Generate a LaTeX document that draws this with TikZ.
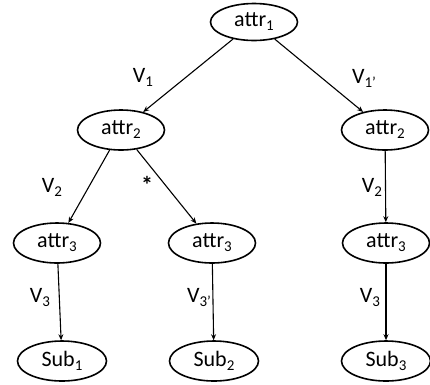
\documentclass[tikz,border=0pt]{standalone}
\usepackage{fontspec}
\setmainfont{Carlito}
\usetikzlibrary{arrows.meta, shapes.geometric}

\newcommand{\subidx}[1]{\raisebox{-4pt}{\fontsize{15}{15}\selectfont #1}}

\begin{document}
\begin{tikzpicture}[x=1pt, y=-1pt, >={Stealth[length=6pt, width=5pt]}]
    \tikzstyle{format} = [draw, line width=1.6pt, ellipse, minimum width=87pt, minimum height=40pt, inner sep=0pt, font=\fontsize{22}{24}\selectfont]
    \tikzstyle{lbl} = [inner sep=0pt, font=\fontsize{22}{24}\selectfont]

    \useasboundingbox (0,0) rectangle (430,384);

    \begin{scope}
        \path[->, line width=1.1pt]
          node[format, minimum height=37pt] (A1) at (254,22) {attr\subidx{1}}
          node[format] (B1) at (121,130) {attr\subidx{2}}
          node[format] (B2) at (385,130) {attr\subidx{2}}
          node[format] (C1) at (57,243) {attr\subidx{3}}
          node[format] (C2) at (212,243) {attr\subidx{3}}
          node[format] (C3) at (386,243) {attr\subidx{3}}
          node[format, minimum width=89pt] (S1) at (62,361) {Sub\subidx{1}}
          node[format, minimum width=89pt] (S2) at (214,361) {Sub\subidx{2}}
          node[format, minimum width=89pt] (S3) at (386,361) {Sub\subidx{3}}

          node[lbl] (L1) at (143,77) {V\subidx{1}}
          node[lbl] (L2) at (364,78) {V\subidx{1'}}
          node[lbl] (L3) at (52,187) {V\subidx{2}}
          node[lbl, font=\fontsize{24}{24}\selectfont\bfseries] (L4) at (147,185) {*}
          node[lbl] (L5) at (372,187) {V\subidx{2}}
          node[lbl] (L6) at (40,297) {V\subidx{3}}
          node[lbl] (L7) at (199,297) {V\subidx{3'}}
          node[lbl] (L8) at (370,297) {V\subidx{3}}

          (A1) edge (B1)
          (A1) edge (B2)
          (B1) edge (C1)
          (B1) edge (C2)
          (B2) edge (C3)
          (C1) edge (S1)
          (C2) edge (S2)
          (C3) edge (S3);
    \end{scope}
\end{tikzpicture}
\end{document}
